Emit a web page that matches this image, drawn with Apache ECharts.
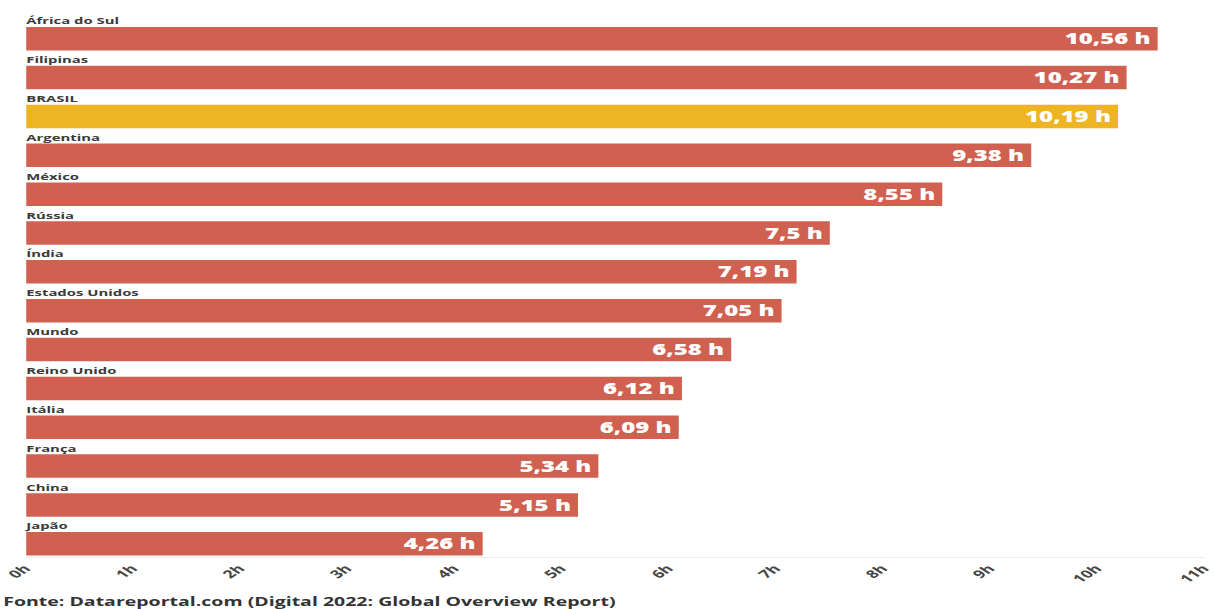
<!DOCTYPE html>
<html>
<head>
<meta charset="utf-8">
<script src="https://cdn.jsdelivr.net/npm/echarts@6/dist/echarts.min.js"></script>
<style>
  html, body { margin: 0; padding: 0; background: #fff; overflow: hidden; }
  #wrap { width: 1214px; height: 609px; overflow: hidden; }
  /* the chart is laid out narrow and widened horizontally */
  #chart { width: 758.75px; height: 609px; transform: scaleX(1.6); transform-origin: 0 0; }
</style>
</head>
<body>
<div id="wrap"><div id="chart"></div></div>
<script>
// Average daily time spent on the internet (hours)
const countries = [
  'África do Sul', 'Filipinas', 'BRASIL', 'Argentina', 'México', 'Rússia', 'Índia',
  'Estados Unidos', 'Mundo', 'Reino Unido', 'Itália', 'França', 'China', 'Japão'
];
const hours = [10.56, 10.27, 10.19, 9.38, 8.55, 7.5, 7.19, 7.05, 6.58, 6.12, 6.09, 5.34, 5.15, 4.26];
const highlighted = 'BRASIL';
const axisMin = 0;
const axisMax = 11;
const source = 'Fonte: Datareportal.com (Digital 2022: Global Overview Report)';

const RED = '#D0604F';
const GOLD = '#EEB421';
const FONT = '"Open Sans", "DejaVu Sans", sans-serif';

const fmtHours = v => String(v).replace('.', ',') + ' h';

const chart = echarts.init(document.getElementById('chart'), null, { renderer: 'svg' });

chart.setOption({
  animation: false,
  backgroundColor: '#fff',
  grid: { left: 16.4, right: 3.75, top: 19.3, height: 543.9 },
  xAxis: {
    type: 'value',
    min: axisMin,
    max: axisMax,
    interval: 1,
    offset: -6,
    splitLine: { show: false },
    axisTick: { show: false },
    axisLine: { show: true, lineStyle: { color: '#ececec', width: 1 } },
    axisLabel: {
      rotate: 45,
      margin: 9,
      formatter: '{value}h',
      color: '#454545',
      fontFamily: FONT,
      fontWeight: 'bold',
      fontSize: 11
    }
  },
  yAxis: {
    type: 'category',
    data: countries,
    inverse: true,
    show: false
  },
  series: [
    {
      // bars with the country name above each one
      type: 'bar',
      barWidth: 23.5,
      data: hours.map((v, i) => ({
        value: v,
        itemStyle: { color: countries[i] === highlighted ? GOLD : RED }
      })),
      label: {
        show: true,
        position: [0, -1.5],
        align: 'left',
        verticalAlign: 'bottom',
        formatter: p => countries[p.dataIndex],
        color: '#3a3a3a',
        fontFamily: FONT,
        fontWeight: 'bold',
        fontSize: 9.3
      }
    },
    {
      // value labels, overlaid on the same bars
      type: 'bar',
      barWidth: 23.5,
      barGap: '-100%',
      silent: true,
      data: hours,
      itemStyle: { color: 'rgba(0,0,0,0)' },
      label: {
        show: true,
        position: 'insideRight',
        distance: 4.4,
        formatter: p => fmtHours(p.value),
        color: '#fff',
        fontFamily: FONT,
        fontWeight: 800,
        fontSize: 15
      }
    }
  ],
  graphic: [
    {
      type: 'text',
      left: 2,
      top: 595,
      style: {
        text: source,
        fill: '#333',
        font: 'bold 12.2px ' + FONT
      }
    }
  ]
});
</script>
</body>
</html>
